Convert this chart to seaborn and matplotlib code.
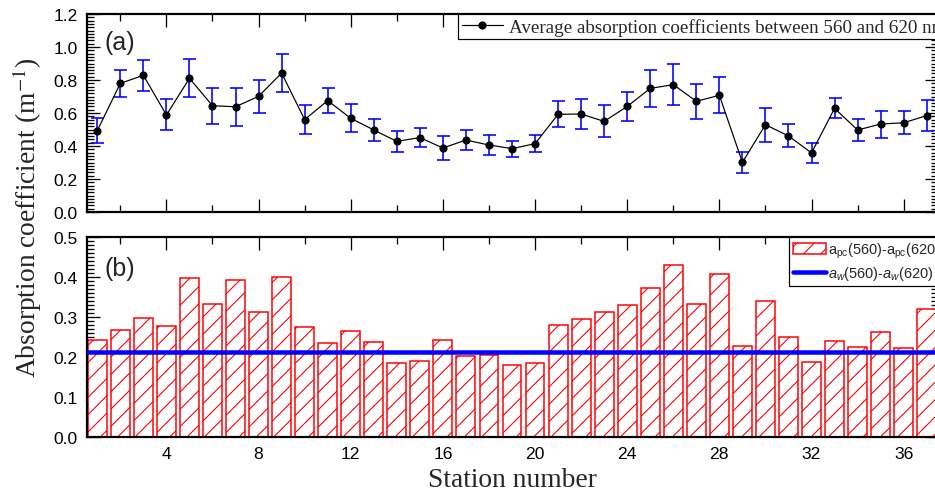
import matplotlib
matplotlib.use("Agg")
import matplotlib.pyplot as plt
import seaborn as sns
from matplotlib.ticker import MultipleLocator
from matplotlib.lines import Line2D
from matplotlib.patches import Patch
from matplotlib.font_manager import FontProperties

# ---------------- data ----------------
stations = list(range(1, 38))
avg_abs = [0.493, 0.780, 0.828, 0.588, 0.810, 0.644, 0.638, 0.701, 0.842, 0.560,
           0.675, 0.568, 0.497, 0.428, 0.451, 0.388, 0.436, 0.406, 0.384, 0.414,
           0.592, 0.594, 0.549, 0.640, 0.749, 0.772, 0.671, 0.707, 0.301, 0.529,
           0.461, 0.358, 0.628, 0.497, 0.533, 0.541, 0.584]
avg_err = [0.076, 0.083, 0.093, 0.094, 0.116, 0.109, 0.115, 0.100, 0.115, 0.087,
           0.077, 0.085, 0.064, 0.063, 0.060, 0.072, 0.060, 0.060, 0.048, 0.050,
           0.078, 0.092, 0.097, 0.089, 0.111, 0.126, 0.105, 0.110, 0.064, 0.102,
           0.070, 0.060, 0.060, 0.064, 0.082, 0.069, 0.092]
pc_diff = [0.242, 0.268, 0.298, 0.278, 0.398, 0.333, 0.393, 0.3125, 0.400, 0.275,
           0.234, 0.265, 0.2375, 0.186, 0.191, 0.242, 0.203, 0.204, 0.180, 0.184,
           0.280, 0.294, 0.312, 0.331, 0.373, 0.429, 0.3325, 0.408, 0.228, 0.340,
           0.250, 0.1875, 0.240, 0.225, 0.262, 0.222, 0.319]
water_diff = 0.212
top_legend = "Average absorption coefficients between 560 and 620 nm"
pc_label = r"a$_{\mathrm{pc}}$(560)-a$_{\mathrm{pc}}$(620)"
w_label = r"$a_w$(560)-$a_w$(620)"
xlabel = "Station number"
ylabel = r"Absorption coefficient (m$^{\mathrm{-1}}$)"

# ---------------- style ----------------
DPI = 156
def pt(px):
    return px * 72.0 / DPI

sns.set_style("ticks")
plt.rcParams["font.family"] = ["Liberation Sans", "DejaVu Sans"]
plt.rcParams["mathtext.fontset"] = "custom"
plt.rcParams["mathtext.rm"] = "Liberation Sans"
plt.rcParams["mathtext.it"] = "Liberation Sans:italic"
plt.rcParams["mathtext.sf"] = "Liberation Sans"
plt.rcParams["hatch.linewidth"] = pt(1.1)

BLUE = "#0000ff"
RED = "#ff0000"
HATCH = "///"

fig = plt.figure(figsize=(935 / DPI, 497 / DPI), dpi=DPI)
ax1 = fig.add_axes([87 / 935, (497 - 213) / 497, 851 / 935, 198 / 497])
ax2 = fig.add_axes([87 / 935, (497 - 438) / 497, 851 / 935, 200 / 497], sharex=ax1)

# ---------------- panel (a) ----------------
ax1.errorbar(stations, avg_abs, yerr=avg_err, fmt="none", ecolor=BLUE,
             elinewidth=pt(1.6), capsize=pt(6.5), capthick=pt(1.6), zorder=2)
sns.lineplot(x=stations, y=avg_abs, ax=ax1, color="black", marker="o",
             markersize=pt(6.5), markeredgecolor="black", linewidth=pt(1.2),
             zorder=3)

# ---------------- panel (b) ----------------
sns.barplot(x=stations, y=pc_diff, ax=ax2, native_scale=True, width=0.82,
            color="white", edgecolor=RED, linewidth=pt(1.5), hatch=HATCH,
            errorbar=None, zorder=1)
for p in ax2.patches:
    p.set_edgecolor(RED)
    p.set_facecolor("white")
    p.set_hatch(HATCH)
ax2.axhline(water_diff, color=BLUE, lw=pt(4.5), zorder=3)

# ---------------- axes ----------------
for ax in (ax1, ax2):
    ax.set_xlim(0.553, 37.49)
    ax.set_xlabel("")
    ax.set_ylabel("")
    ax.xaxis.set_major_locator(MultipleLocator(4))
    ax.xaxis.set_minor_locator(MultipleLocator(2))
    ax.tick_params(which="both", direction="in", top=True, right=True,
                   width=pt(1.3), labelsize=pt(17.5), pad=pt(9), color="black",
                   labelcolor="black")
    ax.tick_params(which="major", length=pt(13))
    ax.tick_params(which="minor", length=pt(7))
    for s in ax.spines.values():
        s.set_linewidth(pt(2.2))
        s.set_color("black")
        s.set_visible(True)

ax1.set_ylim(0, 1.2)
ax1.yaxis.set_major_locator(MultipleLocator(0.2))
ax1.yaxis.set_minor_locator(MultipleLocator(0.02))
ax1.yaxis.set_major_formatter(matplotlib.ticker.FormatStrFormatter("%.1f"))
ax1.tick_params(labelbottom=False)

ax2.set_ylim(0, 0.5)
ax2.yaxis.set_major_locator(MultipleLocator(0.1))
ax2.yaxis.set_minor_locator(MultipleLocator(0.01))
ax2.yaxis.set_major_formatter(matplotlib.ticker.FormatStrFormatter("%.1f"))

ax1.text(0.021, 0.859, "(a)", transform=ax1.transAxes, fontsize=pt(25),
         ha="left", va="center", family="Liberation Sans")
ax2.text(0.021, 0.845, "(b)", transform=ax2.transAxes, fontsize=pt(25),
         ha="left", va="center", family="Liberation Sans")

# ---------------- legends ----------------
h1 = Line2D([], [], color="black", lw=pt(1.2), marker="o", markersize=pt(6))
leg1 = ax1.legend([h1], [top_legend], loc="upper left",
                  bbox_to_anchor=((457.7 - 87) / 851, 1.0), borderaxespad=0,
                  prop=FontProperties(family="Liberation Serif", size=pt(19)),
                  frameon=True, fancybox=False, framealpha=1, edgecolor="black",
                  handlelength=2.2, handletextpad=0.3, borderpad=0.2)
leg1.get_frame().set_linewidth(pt(1.2))

h2 = Patch(facecolor="white", edgecolor=RED, hatch=HATCH, lw=pt(1.5))
h3 = Line2D([], [], color=BLUE, lw=pt(4.5))
leg2 = ax2.legend([h2, h3], [pc_label, w_label], loc="upper left",
                  bbox_to_anchor=((789 - 87) / 851, 1.0), borderaxespad=0,
                  prop=FontProperties(family="Liberation Sans", size=pt(14.5)),
                  frameon=True, fancybox=False, framealpha=1, edgecolor="black",
                  handlelength=2.3, handletextpad=0.15, borderpad=0.25,
                  labelspacing=0.3)
leg2.get_frame().set_linewidth(pt(1.2))

# ---------------- labels ----------------
fig.text(512.5 / 935, 1 - 481 / 497, xlabel, ha="center", va="center",
         fontsize=pt(27.5), family="Liberation Serif")
fig.text(27 / 935, 1 - 218 / 497, ylabel, ha="center", va="center",
         rotation=90, fontsize=pt(27.5), family="Liberation Serif",
         math_fontfamily="stix")

fig.savefig("out.png", dpi=DPI)
